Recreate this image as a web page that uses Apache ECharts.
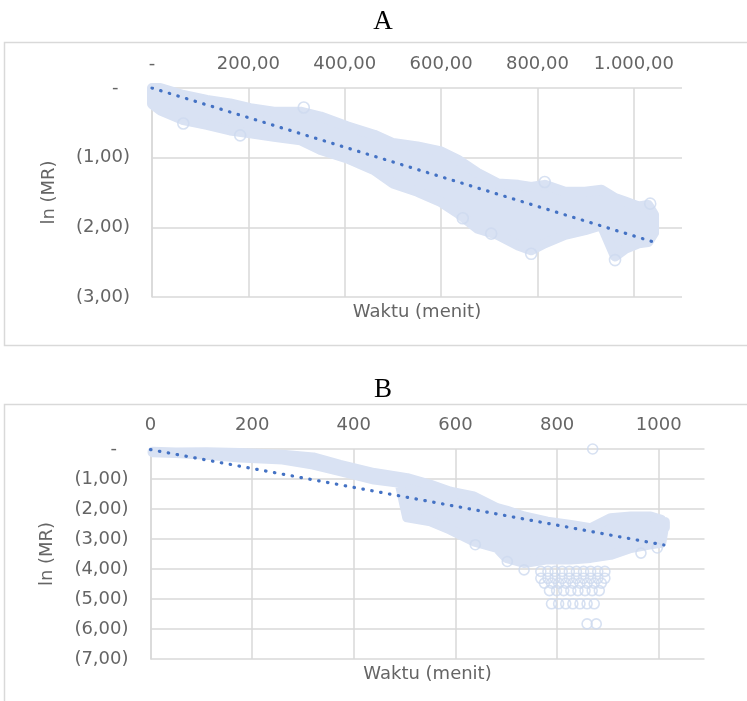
<!DOCTYPE html>
<html>
<head>
<meta charset="utf-8">
<script src="https://cdn.jsdelivr.net/npm/echarts@6/dist/echarts.min.js"></script>
<style>
  html, body { margin: 0; padding: 0; background: #ffffff; }
  #chart { width: 747px; height: 701px; }
</style>
</head>
<body>
<div id="chart"></div>
<script>
// Panel A: drying run, ln(MR) against time (minutes).
// aUpper / aLower trace the outermost readings of the point cloud.
const aX     = [0, 17, 65, 114, 162, 204, 253, 308, 350, 405, 461, 500, 551, 600, 635, 676, 718, 760, 787, 815, 857, 899, 933, 961, 982, 1010, 1030, 1042];
const aUpper = [0.00, 0.00, -0.10, -0.17, -0.22, -0.29, -0.34, -0.34, -0.41, -0.55, -0.67, -0.79, -0.84, -0.91, -1.03, -1.22, -1.37, -1.39, -1.42, -1.39, -1.49, -1.49, -1.46, -1.58, -1.63, -1.70, -1.68, -1.82];
const aLower = [-0.23, -0.32, -0.46, -0.53, -0.61, -0.65, -0.70, -0.75, -0.89, -1.01, -1.18, -1.37, -1.49, -1.64, -1.80, -2.02, -2.11, -2.26, -2.33, -2.23, -2.11, -2.04, -1.97, -2.42, -2.31, -2.23, -2.21, -2.08];
const aStray = [[65, -0.51], [183, -0.68], [315, -0.28], [645, -1.87], [704, -2.09], [787, -2.38], [815, -1.35], [961, -2.47], [1034, -1.66]];
const aTrendX = [0, 1041];
const aTrendY = [0, -2.21];

// Panel B: second run
const bX     = [4, 50, 110, 176, 260, 320, 373, 440, 490, 505, 551, 590, 636, 682, 700, 735, 781, 827, 866, 905, 945, 984, 1005, 1012];
const bUpper = [-0.09, -0.12, -0.11, -0.13, -0.19, -0.28, -0.53, -0.80, -0.93, -0.97, -1.19, -1.42, -1.58, -1.97, -2.05, -2.25, -2.42, -2.53, -2.64, -2.31, -2.25, -2.25, -2.36, -2.62];
const bLower = [-0.11, -0.13, -0.19, -0.28, -0.35, -0.52, -0.74, -1.02, -1.13, -2.28, -2.41, -2.69, -3.08, -3.30, -3.63, -3.80, -3.68, -3.68, -3.63, -3.53, -3.30, -3.18, -3.13, -2.43];
const bStray = [[639, -3.19], [702, -3.75], [735, -4.03], [965, -3.47], [997, -3.30]];
const bTrendX = [0, 1010];
const bTrendY = [-0.02, -3.20];
// isolated low readings of run B, one row per ln(MR) level
const bRowY = [-4.08, -4.31, -4.47, -4.72, -5.16, -5.83];
const bRowX = [
  [768, 782, 796, 810, 824, 838, 852, 866, 880, 894],
  [768, 782, 796, 810, 824, 838, 852, 866, 880, 894],
  [775, 789, 803, 817, 831, 845, 859, 873, 887],
  [785, 799, 813, 827, 841, 855, 869, 883],
  [789, 803, 817, 831, 845, 859, 873],
  [859, 877]
];
const bOutlier = [[870, 0]];

// tick ranges
const aXTicks = { min: 0, max: 1100, interval: 200 };
const bXTicks = { min: 0, max: 1090, interval: 200 };
const aYTicks = { min: -3, max: 0, interval: 1 };
const bYTicks = { min: -7, max: 0, interval: 1 };

const BAND = '#d9e2f3';
const RING = '#cdd9ef';
const TREND = '#4472c4';
const GRID = '#d9d9d9';
const TEXT = '#656565';
const FONT = 'DejaVu Sans';
const FSIZE = 18;

function pairs(xs, ys) { return xs.map((x, i) => [x, ys[i]]); }

function fmtAX(v) {
  if (v === 0) return '-';
  const s = v.toFixed(2).replace('.', ',');
  const [ip, dp] = s.split(',');
  return ip.replace(/\B(?=(\d{3})+(?!\d))/g, '.') + ',' + dp;
}
function fmtY(v) {
  if (v === 0) return '-  ';
  return '(' + Math.abs(v).toFixed(2).replace('.', ',') + ')';
}

// filled cloud of overlapping markers: polygon through the outermost
// marker centres, widened by a stroke of one marker diameter
function bandSeries(idx, xs, up, lo) {
  return {
    type: 'custom',
    xAxisIndex: idx, yAxisIndex: idx,
    clip: false,
    silent: true,
    data: [[xs[0], up[0]]],
    renderItem: function (params, api) {
      const pts = [];
      for (let i = 0; i < xs.length; i++) pts.push(api.coord([xs[i], up[i]]));
      for (let i = xs.length - 1; i >= 0; i--) pts.push(api.coord([xs[i], lo[i]]));
      return {
        type: 'polygon', shape: { points: pts },
        style: { fill: BAND, stroke: BAND, lineWidth: 10, lineJoin: 'round' }
      };
    },
    z: 1
  };
}

function ringSeries(idx, data, size) {
  return {
    type: 'scatter',
    xAxisIndex: idx, yAxisIndex: idx,
    clip: false,
    silent: true,
    symbol: 'circle',
    symbolSize: size,
    data: data,
    itemStyle: { color: 'rgba(255,255,255,0)', borderColor: RING, borderWidth: 1.6 },
    z: 2
  };
}

function trendSeries(idx, xs, ys) {
  return {
    type: 'line',
    xAxisIndex: idx, yAxisIndex: idx,
    data: pairs(xs, ys),
    symbol: 'none',
    silent: true,
    lineStyle: { color: TREND, width: 3.2, type: [0.5, 8.5], cap: 'round' },
    z: 5
  };
}

function xTop(gridIndex, ticks, fmt) {
  return {
    type: 'value', gridIndex: gridIndex, position: 'top',
    min: ticks.min, max: ticks.max, interval: ticks.interval,
    axisLine: { show: false }, axisTick: { show: false },
    axisLabel: { color: TEXT, fontFamily: FONT, fontSize: FSIZE, margin: 15, formatter: fmt, showMaxLabel: false },
    splitLine: { show: true, showMaxLine: false, lineStyle: { color: GRID, width: 1.5 } }
  };
}
function xName(gridIndex, ticks, gap) {
  return {
    type: 'value', gridIndex: gridIndex, position: 'bottom',
    min: ticks.min, max: ticks.max,
    name: 'Waktu (menit)', nameLocation: 'middle', nameGap: gap,
    nameTextStyle: { color: TEXT, fontFamily: FONT, fontSize: FSIZE },
    axisLine: { show: false }, axisTick: { show: false },
    axisLabel: { show: false }, splitLine: { show: false }
  };
}
function yLeft(gridIndex, ticks) {
  return {
    type: 'value', gridIndex: gridIndex,
    min: ticks.min, max: ticks.max, interval: ticks.interval,
    name: 'ln (MR)', nameLocation: 'middle', nameRotate: 90, nameGap: 94,
    nameTextStyle: { color: TEXT, fontFamily: FONT, fontSize: FSIZE },
    axisLine: { show: true, lineStyle: { color: GRID, width: 1.5 } },
    axisTick: { show: false },
    axisLabel: { color: TEXT, fontFamily: FONT, fontSize: FSIZE, margin: 22, formatter: fmtY },
    splitLine: { show: true, lineStyle: { color: GRID, width: 1.5 } }
  };
}

const bRows = [];
bRowY.forEach((y, r) => bRowX[r].forEach(x => bRows.push([x, y])));

const option = {
  animation: false,
  backgroundColor: '#ffffff',
  title: [
    { text: 'A', left: 378, top: 3, textAlign: 'center',
      textStyle: { fontFamily: 'Liberation Serif', fontSize: 27, fontWeight: 'normal', color: '#000' } },
    { text: 'B', left: 378, top: 371, textAlign: 'center',
      textStyle: { fontFamily: 'Liberation Serif', fontSize: 27, fontWeight: 'normal', color: '#000' } }
  ],
  graphic: [
    { type: 'rect', shape: { x: 4.5, y: 42.5, width: 800, height: 303 }, style: { fill: 'none', stroke: GRID, lineWidth: 1.5 }, silent: true },
    { type: 'rect', shape: { x: 4.5, y: 404.5, width: 800, height: 400 }, style: { fill: 'none', stroke: GRID, lineWidth: 1.5 }, silent: true }
  ],
  grid: [
    { left: 152, top: 88, width: 530, height: 209 },
    { left: 150.5, top: 449, width: 554, height: 210 }
  ],
  xAxis: [
    xTop(0, aXTicks, fmtAX),
    xTop(1, bXTicks, v => String(v)),
    xName(0, aXTicks, 6),
    xName(1, bXTicks, 6)
  ],
  yAxis: [ yLeft(0, aYTicks), yLeft(1, bYTicks) ],
  series: [
    bandSeries(0, aX, aUpper, aLower),
    ringSeries(0, aStray, 11),
    trendSeries(0, aTrendX, aTrendY),
    bandSeries(1, bX, bUpper, bLower),
    ringSeries(1, bStray, 10),
    ringSeries(1, bRows, 10),
    ringSeries(1, bOutlier, 10),
    trendSeries(1, bTrendX, bTrendY)
  ]
};

const chart = echarts.init(document.getElementById('chart'), null, { renderer: 'canvas' });
chart.setOption(option);
</script>
</body>
</html>
